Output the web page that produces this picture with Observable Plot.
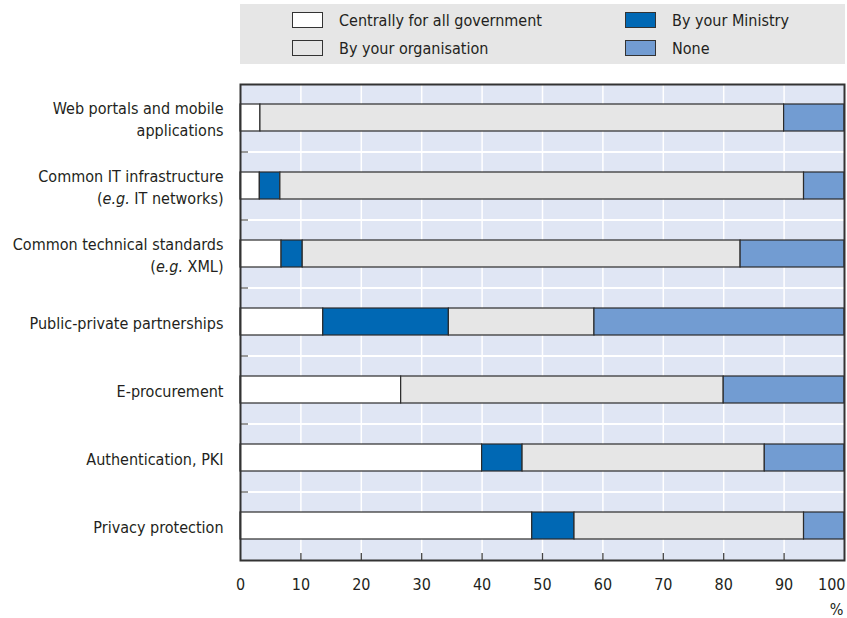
<!DOCTYPE html>
<html>
<head>
<meta charset="utf-8">
<script src="https://cdn.jsdelivr.net/npm/d3@7"></script>
<script src="https://cdn.jsdelivr.net/npm/@observablehq/plot@0.6"></script>
<style>
  body { margin: 0; background: #fff; font-family: "Liberation Sans Narrow", "Arial Narrow", "DejaVu Sans Condensed", sans-serif; color: #231f20; }
  #legend { position: relative; margin: 4px 0 0 240px; width: 605px; height: 60px; background: #e6e6e6; font-size: 16px; }
  #legend .item { position: absolute; display: flex; align-items: center; height: 16px; white-space: nowrap; }
  #legend .sw { width: 31px; height: 16px; box-sizing: border-box; border: 1.5px solid #333; margin-right: 16px; }
  #chart svg { display: block; }
</style>
</head>
<body>
<div id="legend"></div>
<div id="chart"></div>
<script>
// Share of respondents, per service, by who provides it (%)
const categories = [
  "Web portals and mobile\napplications",
  "Common IT infrastructure\n(e.g. IT networks)",
  "Common technical standards\n(e.g. XML)",
  "Public-private partnerships",
  "E-procurement",
  "Authentication, PKI",
  "Privacy protection"
];
const seriesNames = ["Centrally for all government", "By your Ministry", "By your organisation", "None"];
const seriesColors = ["#ffffff", "#0068b4", "#e6e6e6", "#729cd2"];

const centrally    = [3.3, 3.2, 6.8, 13.7, 26.6, 40.0, 48.3];
const ministry     = [0.0, 3.4, 3.5, 20.8, 0.0, 6.7, 7.0];
const organisation = [86.7, 86.7, 72.5, 24.1, 53.4, 40.1, 38.0];
const none         = [10.0, 6.7, 17.2, 41.4, 20.0, 13.2, 6.7];

const xTicks = [0, 10, 20, 30, 40, 50, 60, 70, 80, 90, 100];

// Long-format rows for the stack, in stacking order (left to right)
const seriesValues = [centrally, ministry, organisation, none];
const rows = seriesNames.flatMap((s, i) =>
  categories.map((c, j) => ({category: c, series: s, value: seriesValues[i][j]}))
).filter(d => d.value > 0);

// Legend (two columns, two rows)
const legendLayout = [
  {name: seriesNames[0], left: 52, top: 8},
  {name: seriesNames[2], left: 52, top: 36},
  {name: seriesNames[1], left: 385, top: 8},
  {name: seriesNames[3], left: 385, top: 36}
];
const legend = document.getElementById("legend");
for (const it of legendLayout) {
  const el = document.createElement("div");
  el.className = "item";
  el.style.left = it.left + "px";
  el.style.top = it.top + "px";
  const sw = document.createElement("span");
  sw.className = "sw";
  sw.style.background = seriesColors[seriesNames.indexOf(it.name)];
  const tx = document.createElement("span");
  tx.textContent = it.name;
  el.append(sw, tx);
  legend.append(el);
}

const width = 847, height = 554;
const margin = {top: 20, right: 3, bottom: 58, left: 240};
const plotW = width - margin.left - margin.right;
const plotH = height - margin.top - margin.bottom;
const step = plotH / categories.length;
const fontSize = 16;
const ink = "#231f20";

const chart = Plot.plot({
  width, height,
  marginTop: margin.top, marginRight: margin.right,
  marginBottom: margin.bottom, marginLeft: margin.left,
  style: {fontFamily: '"Liberation Sans Narrow", "Arial Narrow", "DejaVu Sans Condensed", sans-serif', fontSize: fontSize + "px", color: ink, background: "#fff"},
  x: {domain: [0, 100]},
  y: {domain: categories, paddingInner: 0.6, paddingOuter: 0.3},
  color: {domain: seriesNames, range: seriesColors},
  marks: [
    Plot.frame({fill: "#e0e6f4", stroke: null}),
    Plot.gridX(xTicks.slice(1, -1), {stroke: "#fff", strokeOpacity: 1, strokeWidth: 1.5}),
    Plot.ruleY(categories.slice(1), {y: d => d, dy: -step / 2, stroke: "#fff", strokeWidth: 2}),
    Plot.tickY(categories.slice(1), {y: d => d, dy: -step / 2, insetRight: plotW - 8, stroke: "#777", strokeWidth: 1.5}),
    Plot.barX(rows, Plot.stackX({y: "category", x: "value", fill: "series", stroke: "#2b2b2b", strokeWidth: 1.2})),
    Plot.tickX(xTicks.slice(1, -1), {x: d => d, insetTop: plotH - 7, stroke: "#444", strokeWidth: 1.3}),
    Plot.axisY({tickSize: 0, tickPadding: 17, fontSize, lineHeight: 1.35, fill: ink, label: null}),
    Plot.axisX(xTicks.slice(0, -1), {tickSize: 0, tickPadding: 18, fontSize, fill: ink, label: null}),
    Plot.axisX(xTicks.slice(-1), {tickSize: 0, tickPadding: 18, fontSize, fill: ink, textAnchor: "end", dx: 1, label: null}),
    Plot.text(["%"], {text: d => d, frameAnchor: "bottom-right", textAnchor: "end", lineAnchor: "middle", dy: 49, dx: -1, fontSize, fill: ink}),
    Plot.frame({stroke: "#333", strokeWidth: 2})
  ]
});

// Italicise the "e.g." abbreviation inside the category labels
chart.querySelectorAll("tspan, text").forEach(node => {
  if (node.children.length) return;
  const t = node.textContent;
  const k = t.indexOf("e.g.");
  if (k < 0) return;
  node.textContent = "";
  node.append(document.createTextNode(t.slice(0, k)));
  const it = document.createElementNS("http://www.w3.org/2000/svg", "tspan");
  it.setAttribute("font-style", "italic");
  it.textContent = "e.g.";
  node.append(it);
  node.append(document.createTextNode(t.slice(k + 4)));
});

document.getElementById("chart").append(chart);
</script>
</body>
</html>
